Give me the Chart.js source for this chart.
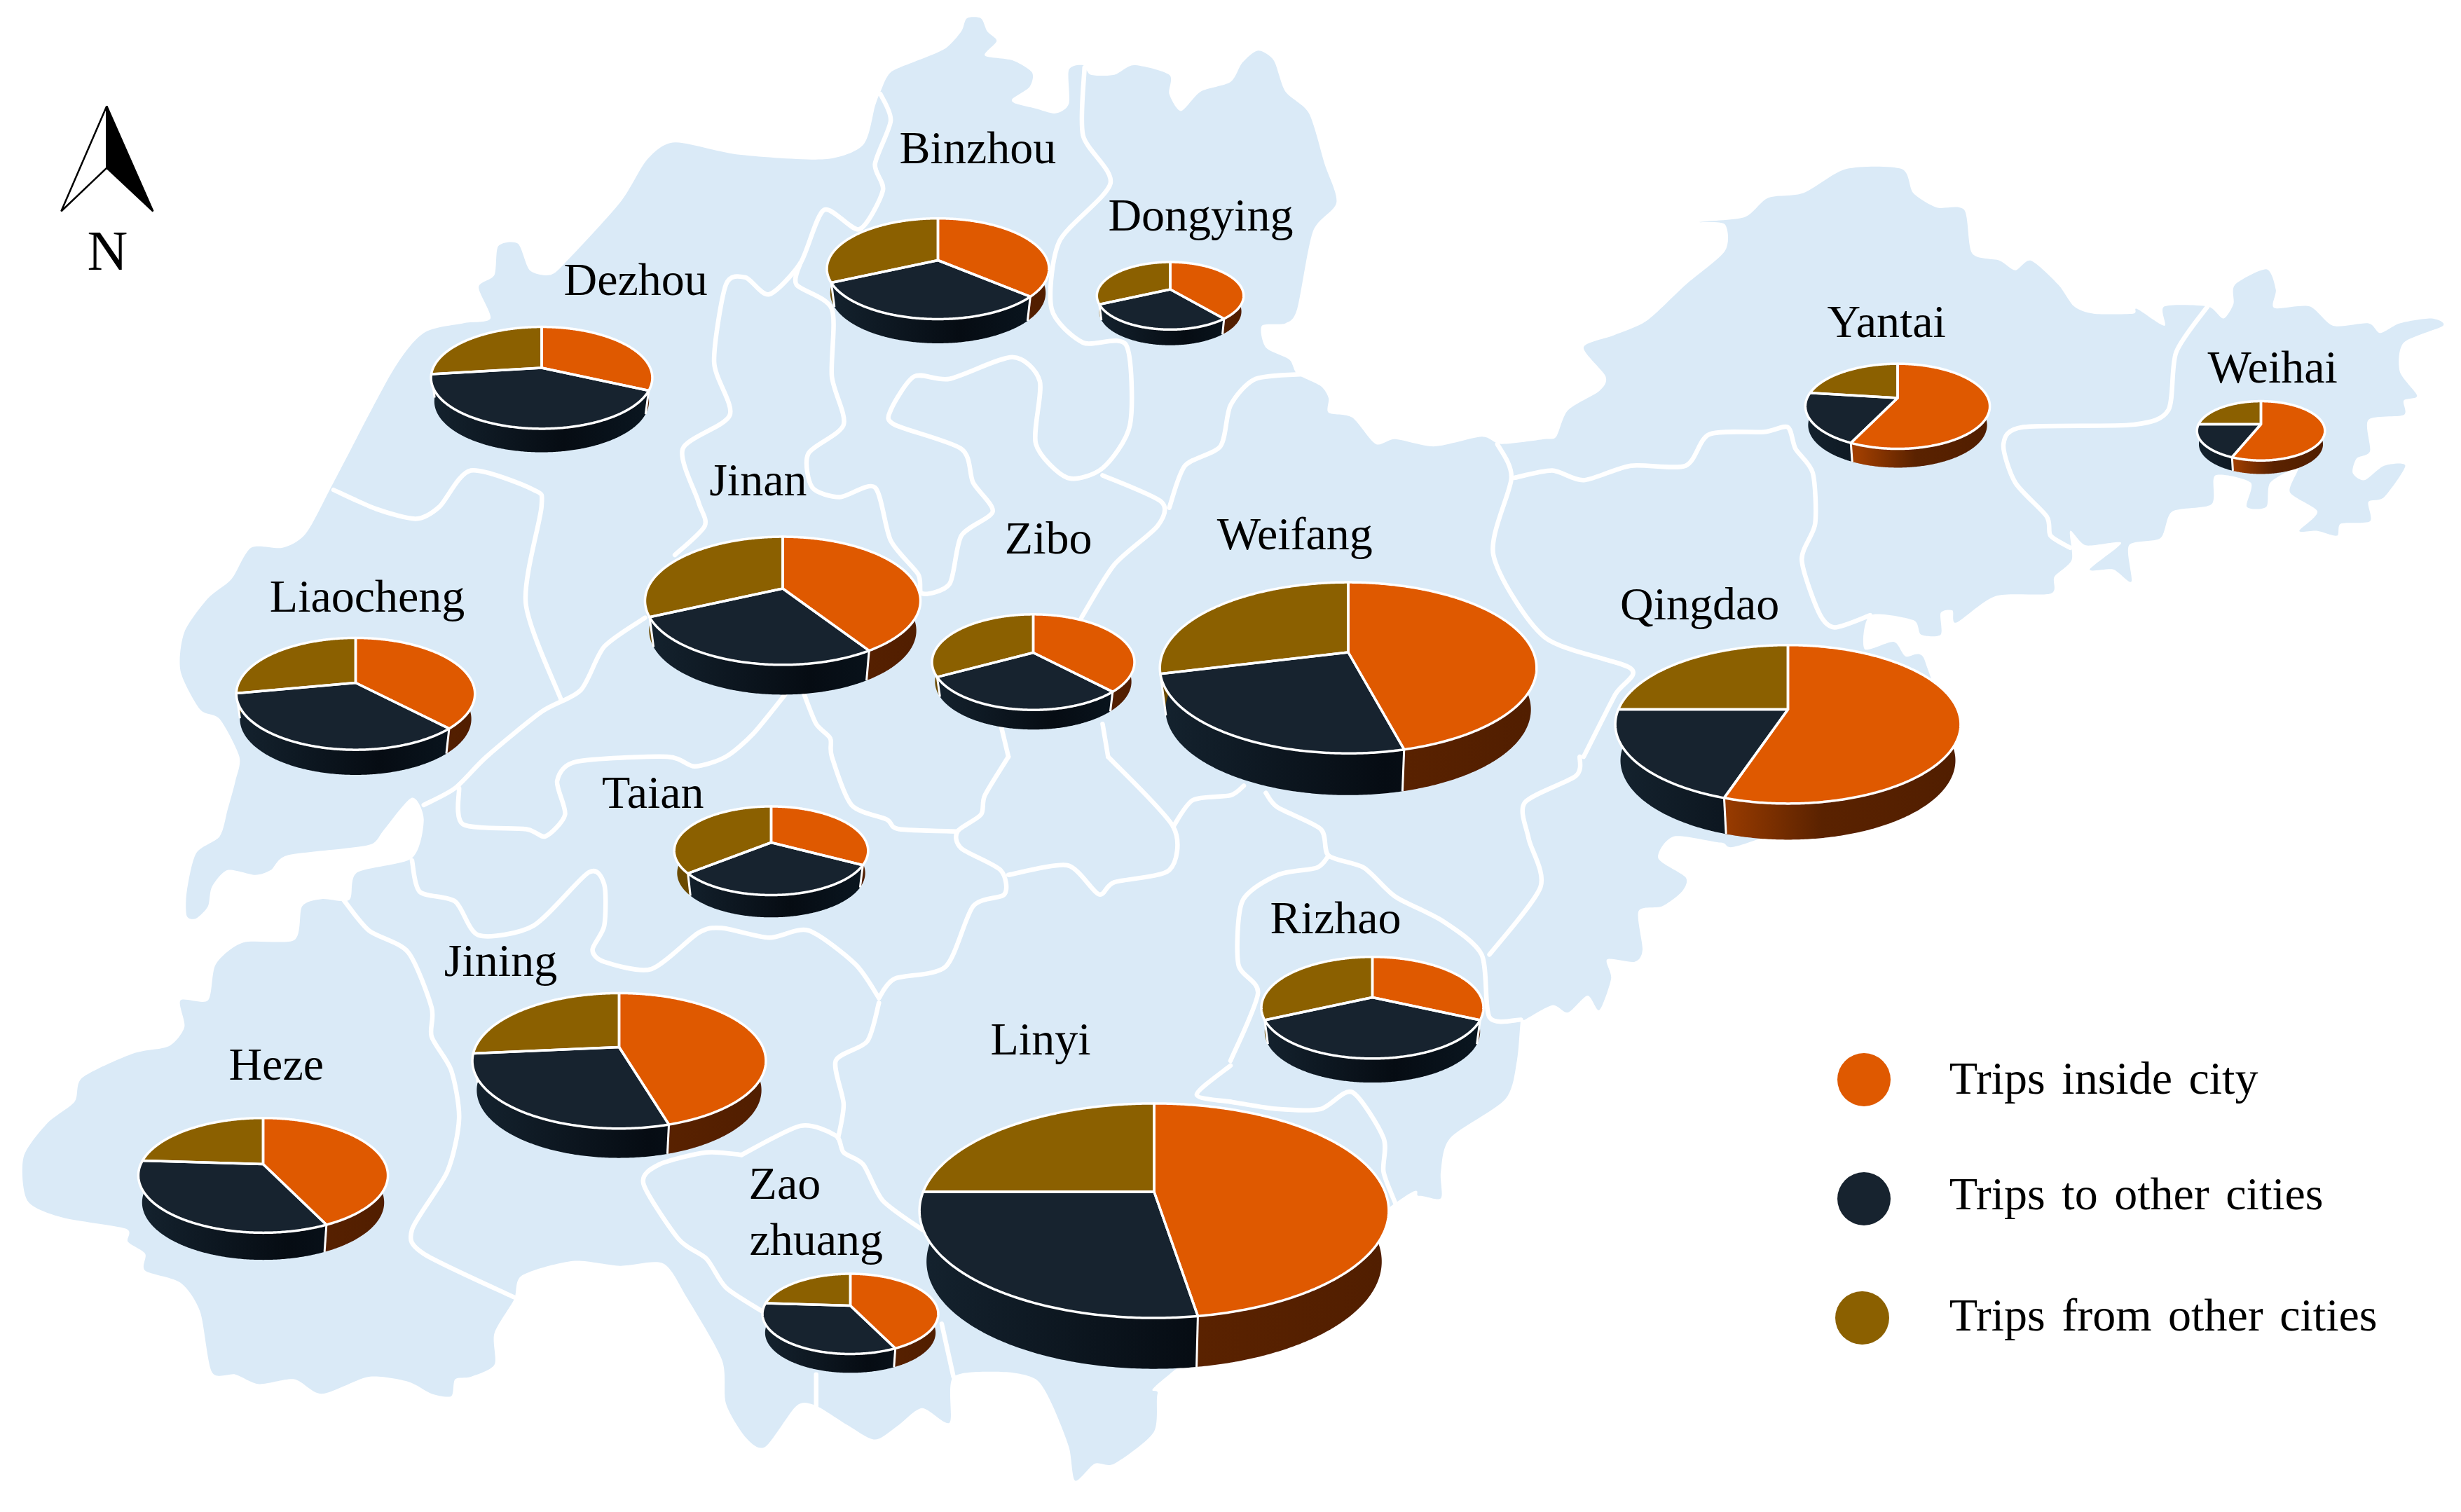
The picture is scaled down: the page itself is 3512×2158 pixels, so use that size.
<!DOCTYPE html>
<html>
<head>
<meta charset="utf-8">
<title>Trips by city</title>
<script src="https://cdn.jsdelivr.net/npm/chart.js@4"></script>
<style>
  html, body { margin: 0; padding: 0; background: #fff; }
  #page { position: relative; width: 3512px; height: 2158px; overflow: hidden; font-family: "Liberation Serif", serif; color: #000; }
  #map, #page canvas { position: absolute; left: 0; top: 0; }
  .label { position: absolute; font-size: 66px; line-height: 1; white-space: nowrap; transform: translate(-50%, -50%); }
  .legendText { position: absolute; font-size: 66px; line-height: 1; white-space: nowrap; word-spacing: 7px; transform: translateY(-50%); }
  .legendDot { position: absolute; border-radius: 50%; }
</style>
</head>
<body>
<div id="page">
  <svg id="map" width="3512" height="2158" viewBox="0 0 3512 2158"></svg>
</div>
<script>
// data
const categories = ['Trips inside city', 'Trips to other cities', 'Trips from other cities'];
const cities = ['Dezhou', 'Binzhou', 'Dongying', 'Jinan', 'Liaocheng', 'Zibo', 'Weifang', 'Qingdao',
    'Yantai', 'Weihai', 'Taian', 'Jining', 'Heze', 'Linyi', 'Zaozhuang', 'Rizhao'];
const tripsInside = [32, 36.5, 39, 41, 38, 38, 46, 55, 57, 56, 33, 45.5, 43, 47.5, 43, 32];
const tripsToOther = [41, 31.5, 29, 27, 34, 29, 25, 20, 20, 19, 31, 28, 33, 27.5, 33, 36];
const tripsFromOther = [27, 32, 32, 32, 28, 33, 29, 25, 23, 25, 36, 26.5, 24, 25, 24, 32];

// styles
const faceColors = ['#df5900', '#17232f', '#8b6000'];
const sideStops = [
    [[0, '#a84200'], [0.28, '#a03e00'], [0.6, '#5a2200'], [1, '#511e00']],
    [[0, '#14222e'], [0.6, '#060c13'], [1, '#0a1620']],
    [[0, '#6b4a00'], [1, '#5a3e00']]
];
const mapColor = '#daeaf7';

// pie placement, in the 1568 wide sketch units: apex x, half width, top, apex y, front of face, bottom
const S = 3512 / 1568;
const pieBoxes = [
    [345, 70.5, 208.1, 234.2, 273, 288],
    [597.5, 70.75, 139.3, 166, 203.5, 218.9],
    [745.5, 46.75, 167, 184.4, 210, 220],
    [498.5, 87.75, 342, 375, 423.6, 442.6],
    [226.5, 76, 406.7, 435.3, 478, 494],
    [658.5, 64.5, 391.6, 416, 452.5, 465],
    [859, 120, 371, 415.6, 480, 506.6],
    [1139, 110, 411, 452, 512, 535],
    [1209, 58.75, 231.8, 253.6, 286, 298],
    [1440.5, 40.75, 255.8, 270.5, 293.6, 302.2],
    [491.5, 61.75, 513.7, 536.7, 570.2, 584.4],
    [394.5, 93.5, 633, 667.4, 719.3, 738],
    [167.5, 79.5, 712.6, 742, 785.7, 803],
    [735.5, 149.5, 703.3, 759.6, 840, 872.4],
    [542, 56, 811.5, 831.8, 862.6, 874.6],
    [874.5, 70.75, 609.9, 635.7, 674.7, 690]
];

// text placement, same units
const labels = [
    ['Binzhou', 623, 94], ['Dongying', 765, 137], ['Dezhou', 405, 178], ['Yantai', 1202, 205],
    ['Weihai', 1448, 234], ['Jinan', 483, 306], ['Zibo', 668, 343], ['Weifang', 825, 340],
    ['Liaocheng', 234, 380], ['Qingdao', 1083, 385], ['Taian', 416, 505], ['Rizhao', 851, 585],
    ['Jining', 319, 612], ['Linyi', 663, 662], ['Heze', 176, 678], ['Zao', 500, 754], ['zhuang', 520, 790]
];
const legendTextY = [687, 761, 838];
const legendDotX = [1187.5, 1187.5, 1186.5];
const legendDotY = [688, 764, 840];

// map outline, traced in four tiles of the reference: [tile, x, y, x, y, ...]
const tileOrigin = { a: [0, 0], b: [1756, 0], c: [0, 1080], d: [1756, 1080] };
const coast = [
    ['a', 1122,190, 1135,150, 1170,125, 1205,100, 1225,65, 1232,38, 1250,38, 1258,65, 1270,85, 1255,115, 1290,125, 1315,150, 1312,180, 1290,205, 1295,215, 1320,225, 1345,235, 1362,215, 1362,145, 1380,135, 1390,155, 1420,155, 1445,135, 1490,155, 1490,195, 1505,230, 1530,190, 1568,170],
    ['b', 15,130, 35,105, 55,125, 70,190, 100,235, 120,340, 135,420, 105,480, 85,640, 70,670, 40,675, 45,720, 75,745, 85,775, 115,800, 125,825, 125,855, 155,865, 185,920, 210,910, 260,925, 320,905, 345,920, 400,910, 415,905, 430,850, 470,810, 478,780, 450,720, 488,695, 530,665, 580,590, 630,520, 630,465, 598,460, 655,450, 685,410, 730,400, 785,350, 855,350, 870,400, 900,430, 935,435, 945,525, 980,540, 1000,560, 1020,540, 1055,590, 1075,635, 1100,650, 1150,650, 1155,640, 1190,675, 1190,635, 1245,635, 1265,660, 1278,630, 1280,590, 1320,558, 1332,600, 1330,638, 1375,635, 1405,675, 1450,670, 1465,690, 1490,670, 1530,660, 1545,675, 1495,710, 1490,770, 1512,820, 1495,830, 1495,860, 1450,870, 1452,935, 1435,950, 1430,980, 1445,995, 1470,965, 1497,965, 1470,1030, 1450,1040, 1452,1080, 1415,1085, 1410,1110, 1385,1100, 1362,1100, 1385,1060, 1350,1020, 1360,970, 1325,1000, 1320,1050, 1295,1050, 1300,1000, 1255,985, 1250,1045, 1200,1060, 1185,1115, 1145,1130, 1148,1205, 1125,1180, 1095,1180, 1135,1125, 1090,1130, 1070,1100, 1072,1160, 1050,1195, 1045,1230, 975,1235, 925,1290, 920,1265, 905,1270, 905,1315, 880,1315, 870,1285, 815,1275, 808,1345, 845,1330, 860,1360, 885,1370],
    ['d', 900,20, 660,178, 625,178, 565,165, 545,210, 580,250, 575,280, 550,310, 520,320, 525,400, 515,425, 480,420, 485,460, 470,525, 455,495, 430,530, 410,515, 375,545, 370,545, 365,630, 350,710, 280,790, 268,860, 268,915, 240,910, 210,925],
    ['c', 1490,1280, 1475,1320, 1470,1400, 1420,1465, 1395,1465, 1370,1500, 1362,1430, 1340,1340, 1320,1290, 1280,1275, 1215,1285, 1210,1380, 1175,1350, 1145,1385, 1115,1415, 1080,1385, 1040,1345, 1015,1345, 975,1430, 950,1410, 925,1340, 920,1250, 875,1120, 845,1050, 790,1055, 730,1045, 665,1075, 655,1125, 630,1195, 630,1260, 600,1285, 580,1290, 575,1325, 550,1320, 520,1295, 470,1285, 410,1320, 375,1290, 330,1300, 300,1280, 270,1275, 255,1150, 230,1090, 185,1065, 185,1030, 163,1005, 160,978, 80,955, 35,920, 30,830, 60,760, 95,715, 105,665, 170,615, 215,600, 235,560, 230,505, 265,505, 275,430, 310,385, 375,380, 385,310, 410,295, 445,297, 455,240, 525,210, 540,130, 525,85, 490,150, 475,180, 440,190, 365,205, 345,235, 325,245, 290,235, 270,270, 265,310, 250,335, 238,330, 238,280, 250,200, 280,165, 290,110, 300,50],
    ['a', 305,1568, 280,1490, 255,1470, 230,1390, 235,1310, 265,1240, 295,1200, 320,1135, 360,1135, 390,1105, 425,1000, 500,770, 540,690, 590,670, 625,660, 610,595, 630,570, 635,510, 660,505, 675,560, 700,570, 720,545, 790,420, 825,330, 860,295, 940,320, 1050,330, 1100,300, 1115,220]
];
const borders = [
    ['a', 1122,195, 1135,250, 1115,340, 1125,395, 1095,475, 1050,435, 1020,545, 980,610, 950,575, 925,590, 910,750, 930,860, 870,930, 890,1040, 898,1090, 860,1150],
    ['a', 1020,545, 1015,590, 1060,640, 1060,780, 1075,880, 1030,940, 1035,1010, 1070,1030, 1115,1010, 1135,1120, 1170,1190, 1175,1230, 1210,1210, 1225,1110, 1265,1060, 1240,1000, 1225,930, 1140,880, 1135,850, 1165,780, 1210,785, 1290,740, 1325,790, 1320,920, 1360,990, 1405,970, 1440,880, 1435,715, 1380,710, 1340,640, 1350,500, 1415,380, 1380,280, 1382,140],
    ['a', 1405,985, 1480,1040, 1475,1090, 1420,1170, 1378,1280],
    ['a', 1490,1052, 1510,965, 1555,925, 1568,840, 1600,785, 1663,775],
    ['a', 425,1015, 480,1055, 530,1075, 560,1050, 600,975, 680,1015, 690,1050, 670,1250, 715,1450],
    ['a', 822,1280, 770,1340, 740,1430, 690,1475, 620,1568, 580,1633, 540,1668],
    ['a', 1000,1440, 960,1520, 925,1568, 885,1588, 850,1568, 735,1578, 710,1618, 720,1688, 695,1733, 670,1718, 590,1708, 585,1633],
    ['a', 1025,1440, 1040,1500, 1058,1530, 1060,1568, 1085,1668, 1130,1698, 1145,1718, 1220,1723],
    ['a', 1275,1500, 1285,1568],
    ['c', 1285,0, 1255,80, 1250,120, 1220,155, 1225,190, 1275,235, 1280,285, 1240,310, 1205,435, 1140,460, 1120,500],
    ['a', 1405,1500, 1412,1568],
    ['c', 1412,0, 1495,145, 1490,235, 1420,260, 1400,285, 1360,225, 1285,245],
    ['c', 1495,145, 1520,90, 1568,80, 1585,60],
    ['c', 525,215, 535,280, 580,300, 610,370, 680,350, 750,240, 770,265, 770,350, 755,400, 770,425, 830,440, 890,365, 920,355, 980,375, 1030,360, 1090,430, 1120,500],
    ['c', 438,297, 470,360, 520,405, 550,520, 550,580, 575,650, 585,750, 570,860, 525,980, 540,1030, 655,1120],
    ['c', 945,825, 900,820, 840,845, 820,885, 865,1000, 900,1040, 925,1100, 970,1148],
    ['c', 945,825, 1020,765, 1065,785, 1075,820, 1100,845, 1125,920, 1175,980],
    ['c', 1120,510, 1105,590, 1065,630, 1075,720, 1068,790],
    ['c', 1200,1175, 1215,1285],
    ['c', 1040,1280, 1040,1345],
    ['d', 45,75, 60,105, 115,150, 125,205, 170,230, 210,290, 270,340, 320,410, 330,540, 370,545],
    ['d', 125,205, 110,230, 60,245, 15,300, 10,430, 35,490, 0,630],
    ['d', 0,715, 60,730, 115,730, 155,695, 195,790, 195,860, 210,925],
    ['c', 1568,640, 1525,700, 1568,715],
    ['d', 445,0, 440,40, 375,95, 380,170, 395,270, 330,410],
    ['b', 340,920, 358,990, 335,1150, 400,1320, 510,1385, 490,1440, 450,1568],
    ['b', 362,990, 410,975, 450,995, 510,965, 580,965, 610,900, 680,895, 710,885, 720,930, 742,980, 745,1085, 728,1160, 750,1270, 770,1300, 815,1275],
    ['b', 1245,635, 1205,730, 1195,850, 1150,880, 1010,885, 985,920, 1000,1000, 1040,1070, 1045,1110, 1070,1135]
];

function tracePoints(run) {
    const o = tileOrigin[run[0]];
    const pts = [];
    for (let i = 1; i < run.length; i += 2) {
        pts.push([o[0] + run[i] * 1756 / 1568, o[1] + run[i + 1] * 1080 / 1568]);
    }
    return pts;
}

// catmull-rom curve through the traced points
function smoothPath(pts, closed) {
    const n = pts.length;
    const at = i => closed ? pts[(i + n) % n] : pts[Math.max(0, Math.min(n - 1, i))];
    const k = 0.13;
    let d = `M${pts[0][0]} ${pts[0][1]}`;
    for (let i = 0; i < (closed ? n : n - 1); i++) {
        const p0 = at(i - 1), p1 = at(i), p2 = at(i + 1), p3 = at(i + 2);
        d += `C${p1[0] + (p2[0] - p0[0]) * k} ${p1[1] + (p2[1] - p0[1]) * k} ` +
            `${p2[0] - (p3[0] - p1[0]) * k} ${p2[1] - (p3[1] - p1[1]) * k} ${p2[0]} ${p2[1]}`;
    }
    return closed ? d + 'Z' : d;
}

const svg = document.getElementById('map');
function addPath(d, attrs) {
    const el = document.createElementNS('http://www.w3.org/2000/svg', 'path');
    el.setAttribute('d', d);
    Object.keys(attrs).forEach(k => el.setAttribute(k, attrs[k]));
    svg.appendChild(el);
}
addPath(smoothPath(coast.flatMap(tracePoints), true), { fill: mapColor });
borders.forEach(function (run) {
    addPath(smoothPath(tracePoints(run), false), { fill: 'none', stroke: '#fff', 'stroke-width': 6.5, 'stroke-linecap': 'round' });
});

// north arrow
const ax = 68 * S, ay = 67.6 * S, bx = 39 * S, cx = 97.5 * S, by = 134.6 * S, iy = 107 * S;
addPath(`M${ax} ${ay}L${bx} ${by}L${ax} ${iy}Z`, { fill: '#fff', stroke: '#000', 'stroke-width': 2.5 });
addPath(`M${ax} ${ay}L${cx} ${by}L${ax} ${iy}Z`, { fill: '#000', stroke: '#000', 'stroke-width': 2.5 });

// Chart.js only knows flat pies, so this plugin redraws its arcs tilted, with a rim below
function tiltedPie(box) {
    const up = (box[3] - box[2]) * S;
    const down = (box[4] - box[3]) * S;
    const depth = (box[5] - box[4]) * S;
    const p = (down - up) / (down + up);
    const rx = box[1] * S * Math.sqrt(1 - p * p);
    const ry = up * (1 + p);
    const foot = 0.97; // the underside looks a little narrower

    return {
        id: 'tiltedPie',
        beforeDatasetsDraw(chart) {
            const ctx = chart.ctx;
            const arcs = chart.getDatasetMeta(0).data;
            const x0 = arcs[0].x, y0 = arcs[0].y;
            const project = a => {
                const w = 1 - p * Math.sin(a);
                return [x0 + rx * Math.cos(a) / w, y0 + ry * Math.sin(a) / w];
            };
            const rim = arc => {
                const steps = Math.ceil((arc.endAngle - arc.startAngle) / 0.01);
                const pts = [];
                for (let i = 0; i <= steps; i++) {
                    pts.push(project(arc.startAngle + (arc.endAngle - arc.startAngle) * i / steps));
                }
                return pts;
            };
            const lower = q => [x0 + (q[0] - x0) * foot, q[1] + depth];

            ctx.save();
            ctx.lineJoin = 'round';
            // rim bands
            arcs.forEach(function (arc, i) {
                const g = ctx.createLinearGradient(x0 - rx, 0, x0 + rx, 0);
                sideStops[i].forEach(s => g.addColorStop(s[0], s[1]));
                const pts = rim(arc);
                ctx.beginPath();
                pts.forEach((q, k) => k ? ctx.lineTo(q[0], q[1]) : ctx.moveTo(q[0], q[1]));
                pts.slice().reverse().forEach(q => {
                    const l = lower(q);
                    ctx.lineTo(l[0], l[1]);
                });
                ctx.closePath();
                ctx.fillStyle = g;
                ctx.fill();
            });
            // white joints on the visible part of the rim
            arcs.forEach(function (arc) {
                if (Math.sin(arc.endAngle) <= 0) return;
                const q = project(arc.endAngle);
                const l = lower(q);
                ctx.beginPath();
                ctx.moveTo(q[0], q[1]);
                ctx.lineTo(l[0], l[1]);
                ctx.strokeStyle = arc.options.borderColor;
                ctx.lineWidth = 3;
                ctx.stroke();
            });
            // top faces
            arcs.forEach(function (arc) {
                ctx.beginPath();
                ctx.moveTo(x0, y0);
                rim(arc).forEach(q => ctx.lineTo(q[0], q[1]));
                ctx.closePath();
                ctx.fillStyle = arc.options.backgroundColor;
                ctx.fill();
            });
            arcs.forEach(function (arc) {
                ctx.beginPath();
                ctx.moveTo(x0, y0);
                rim(arc).forEach(q => ctx.lineTo(q[0], q[1]));
                ctx.closePath();
                ctx.strokeStyle = arc.options.borderColor;
                ctx.lineWidth = arc.options.borderWidth;
                ctx.stroke();
            });
            ctx.restore();
            return false; // the flat arcs are not wanted
        }
    };
}

const page = document.getElementById('page');
cities.forEach(function (city, i) {
    const box = pieBoxes[i];
    const side = Math.ceil(box[1] * S * 2 + 16);
    const canvas = document.createElement('canvas');
    canvas.width = side;
    canvas.height = side;
    canvas.style.left = (box[0] * S - side / 2) + 'px';
    canvas.style.top = (box[3] * S - side / 2) + 'px';
    page.appendChild(canvas);

    new Chart(canvas.getContext('2d'), {
        type: 'pie',
        data: {
            labels: categories,
            datasets: [{
                label: city,
                data: [tripsInside[i], tripsToOther[i], tripsFromOther[i]],
                backgroundColor: faceColors,
                borderColor: '#fff',
                borderWidth: 3.5
            }]
        },
        options: {
            responsive: false,
            animation: false,
            events: [],
            plugins: { legend: { display: false }, tooltip: { enabled: false } }
        },
        plugins: [tiltedPie(box)]
    });
});

function addText(cls, text, x, y) {
    const el = document.createElement('div');
    el.className = cls;
    el.textContent = text;
    el.style.left = (x * S) + 'px';
    el.style.top = (y * S) + 'px';
    page.appendChild(el);
    return el;
}
labels.forEach(l => addText('label', l[0], l[1], l[2]));
addText('label', 'N', 68.5, 160).style.fontSize = '80px';

categories.forEach(function (name, i) {
    addText('legendText', name, 1242, legendTextY[i]);
    const dot = document.createElement('div');
    dot.className = 'legendDot';
    dot.style.width = dot.style.height = (34 * S) + 'px';
    dot.style.left = ((legendDotX[i] - 17) * S) + 'px';
    dot.style.top = ((legendDotY[i] - 17) * S) + 'px';
    dot.style.background = faceColors[i];
    page.appendChild(dot);
});
</script>
</body>
</html>
